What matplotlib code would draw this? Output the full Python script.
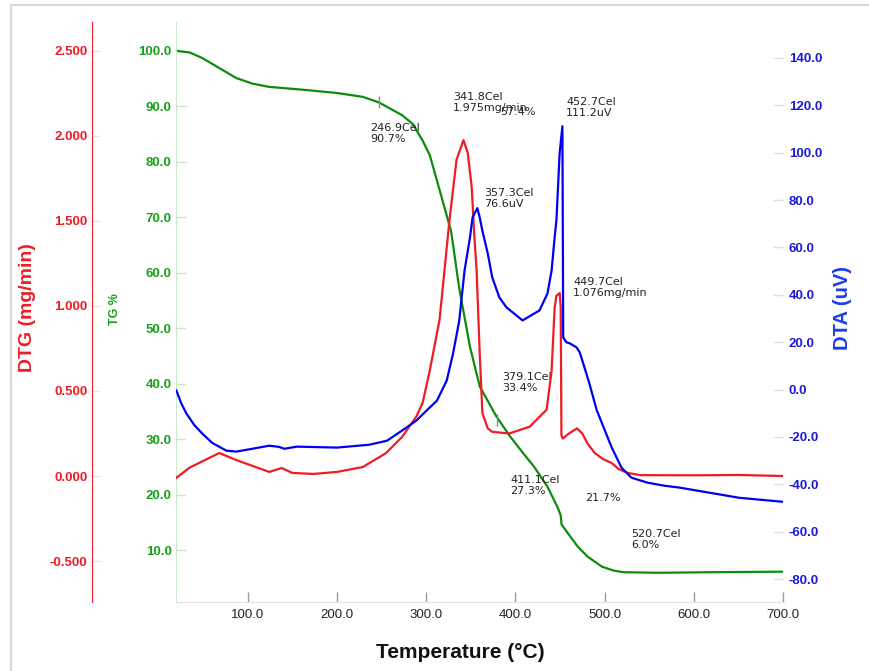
import matplotlib.pyplot as plt
from matplotlib.lines import Line2D

plt.rcParams['font.family'] = ['Liberation Sans', 'DejaVu Sans']

# TG curve (%)
tg_temp = [20, 35, 49, 68, 87, 105, 124, 161, 200, 229, 247, 273, 285, 296, 304,
           318, 328, 337, 349, 360, 379, 394, 408, 421, 436, 447, 450.7, 451.8,
           458, 470, 481, 497, 510, 521, 560, 620, 700]
tg_val = [100.0, 99.7, 98.7, 96.9, 95.1, 94.1, 93.5, 93.0, 92.4, 91.7, 90.7, 88.4,
          86.8, 83.8, 81.2, 73.2, 67.4, 57.2, 46.7, 39.5, 34.0, 30.5, 27.6, 25.0,
          21.4, 17.8, 16.3, 14.6, 13.2, 10.6, 8.8, 7.0, 6.3, 6.0, 5.9, 6.0, 6.1]

# DTG curve (mg/min)
dtg_temp = [20, 35, 68, 87, 124, 138, 150, 173, 200, 229, 255, 273, 289, 296, 304,
            315, 326, 334, 341.8, 346.6, 351, 354, 356.5, 360, 363, 369, 374, 393,
            416, 435, 440.6, 444, 446, 449.7, 450.8, 451.6, 453, 460, 469, 475, 481,
            489, 498, 508, 516, 526, 540, 600, 650, 700]
dtg_val = [-0.01, 0.05, 0.135, 0.094, 0.024, 0.047, 0.018, 0.012, 0.024, 0.053,
           0.135, 0.23, 0.35, 0.43, 0.62, 0.92, 1.5, 1.86, 1.975, 1.9, 1.7, 1.41,
           1.21, 0.72, 0.37, 0.28, 0.26, 0.25, 0.29, 0.39, 0.62, 0.99, 1.06, 1.076,
           0.99, 0.24, 0.22, 0.25, 0.28, 0.25, 0.19, 0.135, 0.1, 0.076, 0.04, 0.018,
           0.005, 0.004, 0.006, 0.0]

# DTA curve (uV)
dta_temp = [20, 25, 31, 40, 49, 60, 76, 87, 105, 124, 135, 141, 155, 200, 236, 256,
            273, 289, 300, 312, 323, 330, 337, 343, 349, 352, 357.3, 360, 363, 369,
            374, 382, 390, 408, 427, 436, 440.6, 444, 446, 449.6, 452.7, 453.6, 457,
            461, 468.6, 472, 475, 483, 491, 500, 508, 519, 530, 548, 567, 584, 651, 700]
dta_val = [-0.4, -5.5, -10.0, -15.0, -18.6, -22.5, -25.8, -26.2, -25.0, -23.7,
           -24.2, -25.0, -24.1, -24.5, -23.3, -21.6, -17.3, -13.1, -9.0, -4.7, 3.8,
           15.0, 29.0, 50.3, 64.0, 72.7, 76.6, 72.7, 67.0, 57.5, 47.4, 38.9, 34.7,
           29.2, 33.4, 40.6, 50.3, 64.3, 71.5, 99.8, 111.2, 22.0, 20.0, 19.5, 17.8,
           15.8, 12.3, 2.5, -8.5, -17.0, -24.5, -33.0, -37.2, -39.3, -40.6, -41.4,
           -45.7, -47.4]

marker_temp = [246.9, 379.1]
marker_tg = [90.7, 33.4]

# annotations: (text, temperature, TG-axis y)
notes = [
    ("246.9Cel\n90.7%", 237.0, 87.0),
    ("341.8Cel\n1.975mg/min", 329.7, 92.6),
    ("57.4%", 382.7, 89.9),
    ("357.3Cel\n76.6uV", 364.8, 75.3),
    ("452.7Cel\n111.2uV", 456.7, 91.7),
    ("449.7Cel\n1.076mg/min", 464.6, 59.2),
    ("379.1Cel\n33.4%", 385.0, 42.1),
    ("411.1Cel\n27.3%", 393.9, 23.5),
    ("21.7%", 478.0, 20.3),
    ("520.7Cel\n6.0%", 530.0, 13.8),
]

x_ticks = [100, 200, 300, 400, 500, 600, 700]
tg_ticks = [10, 20, 30, 40, 50, 60, 70, 80, 90, 100]
dtg_ticks = [-0.5, 0.0, 0.5, 1.0, 1.5, 2.0, 2.5]
dta_ticks = [-80, -60, -40, -20, 0, 20, 40, 60, 80, 100, 120, 140]

RED = '#ee1c25'
GREEN = '#0c8c0c'
GREEN_T = '#19a019'
BLUE = '#0000f0'
BLUE_T = '#1a1ad8'

W, H = 869, 671
fig = plt.figure(figsize=(W / 100, H / 100), dpi=100)
ax = fig.add_axes([176 / W, 1 - 602 / H, 607 / W, 580 / H])
ax_dtg = ax.twinx()
ax_dta = ax.twinx()

ax.plot(tg_temp, tg_val, color=GREEN, lw=1.6)
ax.plot(marker_temp, marker_tg, ls='none', marker='|', ms=9, color='#8a8a8a')
ax_dtg.plot(dtg_temp, dtg_val, color=RED, lw=1.6)
ax_dta.plot(dta_temp, dta_val, color=BLUE, lw=1.6)

ax.set_xlim(19.5, 700)
ax.set_ylim(0.63, 105.2)
ax_dtg.set_ylim(-0.741, 2.67)
ax_dta.set_ylim(-89.7, 155.2)

for a in (ax, ax_dtg, ax_dta):
    for s in a.spines.values():
        s.set_visible(False)

# x axis
ax.spines['bottom'].set_visible(True)
ax.spines['bottom'].set_color('#e2e2e2')
ax.set_xticks(x_ticks)
ax.set_xticklabels([f"{v:.1f}" for v in x_ticks])
ax.tick_params(axis='x', direction='in', length=7, width=1, color='#9a9a9a',
               labelsize=9.5, pad=5, labelcolor='#222222')

# TG axis
ax.spines['left'].set_visible(True)
ax.spines['left'].set_color('#cce8cc')
ax.set_yticks(tg_ticks)
ax.set_yticklabels([f"{v:.1f}" for v in tg_ticks])
ax.tick_params(axis='y', direction='in', length=7, width=1, color='#cce8cc',
               labelsize=9.5, pad=3, labelcolor=GREEN_T)

# DTG axis
ax_dtg.yaxis.set_ticks_position('left')
ax_dtg.yaxis.set_label_position('left')
ax_dtg.spines['left'].set_visible(True)
ax_dtg.spines['left'].set_position(('outward', 60.5))
ax_dtg.spines['left'].set_color(RED)
ax_dtg.set_yticks(dtg_ticks)
ax_dtg.set_yticklabels([f"{v:.3f}" for v in dtg_ticks])
ax_dtg.tick_params(axis='y', direction='in', length=5.8, width=1, color='#f6dede',
                   labelsize=9.5, pad=3.2, labelcolor=RED)
ax_dtg.yaxis.get_major_ticks()[-1].tick1line.set_color(RED)

# DTA axis
ax_dta.set_yticks(dta_ticks)
ax_dta.set_yticklabels([f"{v:.1f}" for v in dta_ticks])
ax_dta.tick_params(axis='y', direction='in', length=7, width=1, color='#dcdcf2',
                   labelsize=9.5, pad=4.3, labelcolor=BLUE_T)
ax_dta.yaxis.get_major_ticks()[-1].tick2line.set_color(BLUE_T)

for lab in (ax.get_yticklabels() + ax_dtg.get_yticklabels() + ax_dta.get_yticklabels()):
    lab.set_fontweight('bold')

for txt, xt, yt in notes:
    ax.text(xt, yt, txt, fontsize=8, family='DejaVu Sans', color='#222222',
            ha='left', va='top', linespacing=1.15)

fig.text(28 / W, 1 - 308 / H, "DTG (mg/min)", rotation=90, color=RED,
         fontsize=14, fontweight='bold', ha='center', va='center')
fig.text(115 / W, 1 - 309 / H, "TG %", rotation=90, color=GREEN_T,
         fontsize=9, fontweight='bold', ha='center', va='center')
fig.text(843 / W, 1 - 308 / H, "DTA (uV)", rotation=90, color='#1c3cf0',
         fontsize=14.5, fontweight='bold', ha='center', va='center')
fig.text(460 / W, 1 - 652 / H, "Temperature (°C)", color='#111111',
         fontsize=15, fontweight='bold', ha='center', va='center')

# light frame around the figure
fig.add_artist(Line2D([11 / W, 11 / W], [0, 1 - 5 / H], color='#d8d8d8', lw=1.5))
fig.add_artist(Line2D([11 / W, 1], [1 - 5 / H, 1 - 5 / H], color='#d8d8d8', lw=1.5))

fig.savefig("out.png", dpi=100)
